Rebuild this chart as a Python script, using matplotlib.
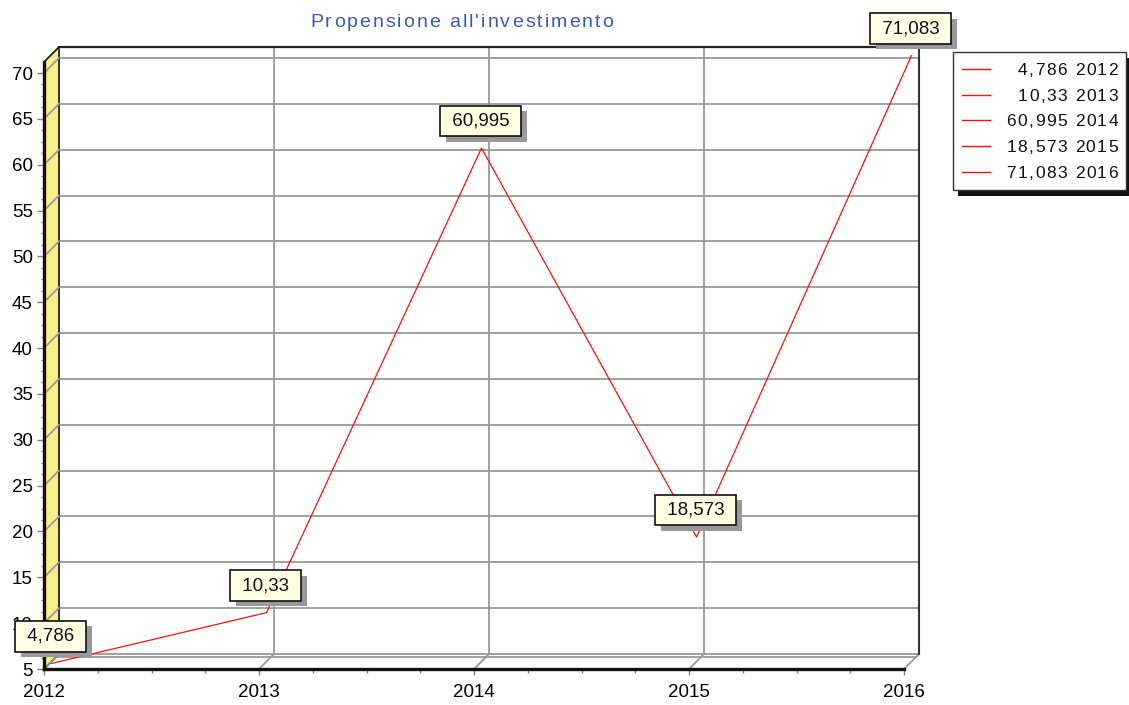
import matplotlib
matplotlib.use("Agg")
import matplotlib.pyplot as plt
import matplotlib.patheffects as pe
from matplotlib.patches import Polygon, Rectangle
from matplotlib.lines import Line2D
from matplotlib.font_manager import FontProperties
from matplotlib.transforms import offset_copy, IdentityTransform
from matplotlib.ticker import MultipleLocator, AutoMinorLocator

# data
years = [2012, 2013, 2014, 2015, 2016]
values = [4.786, 10.33, 60.995, 18.573, 71.083]
y_ticks = list(range(5, 75, 5))
title = "Propensione all'investimento"

W, H = 1129, 705
DEPTH = 15          # pixel depth of the 3d box
YTOP = 71.2
GRID = "#9a9a9a"

plt.rcParams['font.family'] = ['Liberation Sans', 'DejaVu Sans']


def fmt(v):
    return f"{v:g}".replace('.', ',')


fig = plt.figure(figsize=(W / 100, H / 100), dpi=100)
ax = fig.add_axes([44 / W, (H - 669) / H, (904 - 44) / W, (669 - 62) / H])
ax.set_xlim(years[0], years[-1])
ax.set_ylim(5, YTOP)
ax.patch.set_visible(False)
renderer = fig.canvas.get_renderer()


def pt(x, y, d=0):
    px, py = ax.transData.transform((x, y))
    return px + d, py + d


def seg(p, q, **kw):
    ax.add_line(Line2D([p[0], q[0]], [p[1], q[1]], transform=IdentityTransform(),
                       clip_on=False, **kw))


def poly(pts, **kw):
    ax.add_patch(Polygon(pts, closed=True, transform=IdentityTransform(), clip_on=False, **kw))


def fx(x):
    return x / W


def fy(y):
    return 1 - y / H


def spaced(x, y, s, size, color, gap=None, width=None, ha='left', va='baseline'):
    # text with extra letter spacing, x/y in pixels from top-left
    prop = FontProperties(family=plt.rcParams['font.family'], size=size)
    base = renderer.get_text_width_height_descent('xx', prop, ismath=False)[0]
    adv = [renderer.get_text_width_height_descent('x' + ch + 'x', prop, ismath=False)[0] - base
           for ch in s]
    if gap is None:
        gap = (width - sum(adv)) / (len(s) - 1)
    total = sum(adv) + gap * (len(s) - 1)
    start = {'left': x, 'right': x - total, 'center': x - total / 2}[ha]
    for ch, a in zip(s, adv):
        fig.text(fx(start), fy(y), ch, fontproperties=prop, color=color, ha='left', va=va)
        start += a + gap


x0, x1 = years[0], years[-1]

# back wall + floor
poly([pt(x0, 5, DEPTH), pt(x1, 5, DEPTH), pt(x1, YTOP, DEPTH), pt(x0, YTOP, DEPTH)],
     facecolor='white', edgecolor='none', zorder=0.5)
for y in y_ticks:
    seg(pt(x0, y, DEPTH), pt(x1, y, DEPTH), color=GRID, lw=1.3, zorder=1)
for yr in years[1:-1]:
    seg(pt(yr, 5, DEPTH), pt(yr, YTOP, DEPTH), color=GRID, lw=1.3, zorder=1)
for yr in years:
    seg(pt(yr, 5, 0), pt(yr, 5, DEPTH), color=GRID, lw=1.3, zorder=1)
seg(pt(x0, 5, DEPTH - 3), pt(x1, 5, DEPTH - 3), color=GRID, lw=1.3, zorder=1)

# outline of the back wall
seg(pt(x0, YTOP, DEPTH), pt(x1, YTOP, DEPTH), color='#222222', lw=1.6, zorder=1.3)
seg(pt(x1, YTOP, DEPTH), pt(x1, 5, DEPTH), color='#333333', lw=1.5, zorder=1.3)

# yellow left wall
poly([pt(x0, 5, 0), pt(x0, YTOP, 0), pt(x0, YTOP, DEPTH), pt(x0, 5, DEPTH)],
     facecolor='#F7F08A', edgecolor='#222222', lw=1.3, zorder=1.2)
for y in y_ticks:
    seg(pt(x0, y, 0), pt(x0, y, DEPTH), color=GRID, lw=1.3, zorder=1.25)

# axes
for s in ['top', 'right']:
    ax.spines[s].set_visible(False)
for s in ['left', 'bottom']:
    ax.spines[s].set_linewidth(2.4)
    ax.spines[s].set_color('#111111')
ax.yaxis.set_major_locator(MultipleLocator(5))
ax.yaxis.set_minor_locator(AutoMinorLocator(4))
ax.set_xticks(years)
ax.set_xticklabels([str(y) for y in years])
ax.xaxis.set_minor_locator(AutoMinorLocator(4))
ax.tick_params(axis='y', which='major', length=5, width=1, color='#808080', pad=3, labelsize=13.5)
ax.tick_params(axis='y', which='minor', length=2.5, width=1, color='#808080')
ax.tick_params(axis='x', which='major', length=4.5, width=1, color='#808080', pad=6, labelsize=13.5)
ax.tick_params(axis='x', which='minor', length=3, width=1, color='#808080')

# data line, drawn at half depth
mid = offset_copy(ax.transData, fig=fig, x=DEPTH / 2, y=DEPTH / 2, units='dots')
ax.plot(years, values, color='#FF1010', lw=0.9, transform=mid, clip_on=False, zorder=3)

# value marks with a grey drop shadow
lab_tr = offset_copy(ax.transData, fig=fig, x=DEPTH / 2 - 1, y=DEPTH / 2 + 27, units='dots')
for x, v in zip(years, values):
    t = ax.text(x, v, ' ' + fmt(v) + ' ', transform=lab_tr, ha='center', va='center',
                fontsize=13.5, color='#111111',
                bbox=dict(boxstyle='square,pad=0.36', fc='#FFFFE6', ec='#111111', lw=1.2),
                zorder=5, clip_on=False)
    t.get_bbox_patch().set_path_effects([
        pe.SimplePatchShadow(offset=(4.3, -3.8), shadow_rgbFace='#999999', alpha=1.0),
        pe.Normal()])

# legend
fig.add_artist(Rectangle((fx(958), fy(196)), fx(1131 - 958), (196 - 58) / H,
                         transform=fig.transFigure, fc='#111111', ec='none'))
fig.add_artist(Rectangle((fx(953), fy(190)), fx(1126 - 953), (190 - 52) / H,
                         transform=fig.transFigure, fc='white', ec='#333333', lw=1))
for i, (yr, v) in enumerate(zip(years, values)):
    yy = 69 + i * 25.7
    fig.add_artist(Line2D([fx(962), fx(990)], [fy(yy), fy(yy)], transform=fig.transFigure,
                          color='#FF1010', lw=1))
    spaced(1118, yy + 6, f"{fmt(v)} {yr}", 12.5, '#111111', gap=1.5, ha='right')

# title with letter spacing
spaced(310, 27, title, 14, '#3A5AAA', width=303)

fig.savefig("out.png", dpi=100)
